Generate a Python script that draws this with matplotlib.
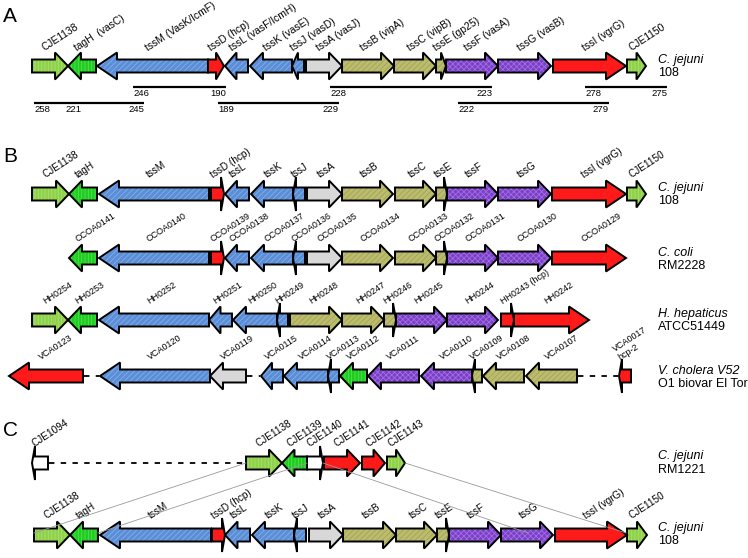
import matplotlib
matplotlib.use("Agg")
import matplotlib.pyplot as plt
from matplotlib.patches import Polygon

plt.rcParams['font.family'] = ['Liberation Sans', 'DejaVu Sans']
plt.rcParams['hatch.linewidth'] = 0.6

# gene tables: (label, start, end, strand, family)
a_genes = [
    ("CJE1138", 32, 68, 1, "lgreen"),
    ("tagH  (vasC)", 68, 96, -1, "green"),
    ("tssM (VasK/IcmF)", 97, 208, -1, "blue"),
    ("tssD (hcp)", 208, 224, 1, "red"),
    ("tssL (vasF/IcmH)", 225, 248, -1, "blue"),
    ("tssK (vasE)", 250, 292, -1, "blue"),
    ("tssJ (vasD)", 292, 304, -1, "blue"),
    ("tssA (vasJ)", 306, 342, 1, "grey"),
    ("tssB (vipA)", 342, 394, 1, "olive"),
    ("tssC (vipB)", 394, 436, 1, "olive"),
    ("tssE (gp25)", 436, 446, 1, "olive"),
    ("tssF (vasA)", 446, 498, 1, "purple"),
    ("tssG (vasB)", 498, 551, 1, "purple"),
    ("tssI (vgrG)", 553, 626, 1, "red"),
    ("CJE1150", 627, 646, 1, "lgreen"),
]
b_jejuni = [
    ("CJE1138", 32, 69, 1, "lgreen"),
    ("tagH", 69, 97, -1, "green"),
    ("tssM", 99, 209, -1, "blue"),
    ("tssD (hcp)", 211, 224, 1, "red"),
    ("tssL", 225, 249, -1, "blue"),
    ("tssK", 251, 293, -1, "blue"),
    ("tssJ", 293, 305, -1, "blue"),
    ("tssA", 307, 342, 1, "grey"),
    ("tssB", 342, 393, 1, "olive"),
    ("tssC", 395, 436, 1, "olive"),
    ("tssE", 436, 447, 1, "olive"),
    ("tssF", 447, 498, 1, "purple"),
    ("tssG", 498, 551, 1, "purple"),
    ("tssI (vgrG)", 552, 626, 1, "red"),
    ("CJE1150", 627, 646, 1, "lgreen"),
]
b_coli = [
    ("CCOA0141", 69, 97, -1, "green"),
    ("CCOA0140", 99, 209, -1, "blue"),
    ("CCOA0139", 211, 224, 1, "red"),
    ("CCOA0138", 225, 249, -1, "blue"),
    ("CCOA0137", 251, 293, -1, "blue"),
    ("CCOA0136", 293, 305, -1, "blue"),
    ("CCOA0135", 307, 342, 1, "grey"),
    ("CCOA0134", 342, 393, 1, "olive"),
    ("CCOA0133", 395, 436, 1, "olive"),
    ("CCOA0132", 436, 447, 1, "olive"),
    ("CCOA0131", 447, 498, 1, "purple"),
    ("CCOA0130", 498, 551, 1, "purple"),
    ("CCOA0129", 552, 626, 1, "red"),
]
b_hepaticus = [
    ("HH0254", 32, 68, 1, "lgreen"),
    ("HH0253", 68, 97, -1, "green"),
    ("HH0252", 99, 209, -1, "blue"),
    ("HH0251", 209, 232, -1, "blue"),
    ("HH0250", 233, 277, -1, "blue"),
    ("HH0249", 277, 288, -1, "blue"),
    ("HH0248", 290, 342, 1, "olive"),
    ("HH0247", 342, 384, 1, "olive"),
    ("HH0246", 384, 396, 1, "olive"),
    ("HH0245", 396, 447, 1, "purple"),
    ("HH0244", 447, 498, 1, "purple"),
    ("HH0243 (hcp)", 501, 514, 1, "red"),
    ("HH0242", 514, 589, 1, "red"),
]
b_cholera = [
    ("VCA0123", 9, 83, -1, "red"),
    ("VCA0120", 100, 210, -1, "blue"),
    ("VCA0119", 210, 246, -1, "grey"),
    ("VCA0115", 261, 283, -1, "blue"),
    ("VCA0114", 284, 328, -1, "blue"),
    ("VCA0113", 328, 339, -1, "blue"),
    ("VCA0112", 340, 367, -1, "green"),
    ("VCA0111", 368, 419, -1, "purple"),
    ("VCA0110", 421, 472, -1, "purple"),
    ("VCA0109", 472, 482, -1, "olive"),
    ("VCA0108", 483, 524, -1, "olive"),
    ("VCA0107", 526, 577, -1, "olive"),
    ("VCA0017\nhcp-2", 619, 631, -1, "red"),
]
b_cholera_gaps = [(83, 100), (246, 261), (577, 619)]
c_rm1221 = [
    ("CJE1094", 32, 48, -1, "white"),
    ("CJE1138", 246, 282, 1, "lgreen"),
    ("CJE1139", 282, 307, -1, "green"),
    ("CJE1140", 307, 323, 1, "white"),
    ("CJE1141", 324, 360, 1, "red"),
    ("CJE1142", 362, 385, 1, "red"),
    ("CJE1143", 387, 405, 1, "lgreen"),
]
c_rm1221_gaps = [(48, 246)]
c_jejuni = [
    ("CJE1138", 34, 70, 1, "lgreen"),
    ("tagH", 70, 98, -1, "green"),
    ("tssM", 100, 211, -1, "blue"),
    ("tssD (hcp)", 212, 225, 1, "red"),
    ("tssL", 225, 250, -1, "blue"),
    ("tssK", 252, 294, -1, "blue"),
    ("tssJ", 294, 306, -1, "blue"),
    ("tssA", 309, 343, 1, "grey"),
    ("tssB", 343, 396, 1, "olive"),
    ("tssC", 396, 437, 1, "olive"),
    ("tssE", 437, 449, 1, "olive"),
    ("tssF", 449, 501, 1, "purple"),
    ("tssG", 501, 553, 1, "purple"),
    ("tssI (vgrG)", 555, 627, 1, "red"),
    ("CJE1150", 627, 647, 1, "lgreen"),
]
# synteny links RM1221 -> 108 (x on top track, x on bottom track)
c_links = [(246, 34), (307, 98), (323, 528), (405, 626)]

# mapped regions under panel A: (from, to, left label, right label)
a_regions_1 = [(133, 226, "246", "190"), (330, 492, "228", "223"), (585, 667, "278", "275")]
a_regions_2 = [(34, 144, "258", "245"), (218, 339, "189", "229"), (458, 609, "222", "279")]

families = {
    "lgreen": ("#8fd24a", "#a9e070", "|||||"),
    "green": ("#1fcc1f", "#55e055", "|||||"),
    "blue": ("#5a8ed6", "#86aee8", "//////"),
    "red": ("#ff1a1a", None, None),
    "grey": ("#d8d8d8", None, None),
    "olive": ("#bcbc6e", "#a3a355", "//////"),
    "purple": ("#7a3ec8", "#a070e0", "xxxxxx"),
    "white": ("#ffffff", None, None),
}


def gene(ax, y, x0, x1, strand, fam, thin):
    length = x1 - x0
    h = 6.5
    if thin and length < 18:
        L, H = 3, 17
    else:
        L = 20 if length > 70 else 13
        L = min(L, length * 0.5)
        H = 13.5
    if strand > 0:
        b = x1 - L
        pts = [(x0, y - h), (b, y - h), (b, y - H), (x1, y), (b, y + H), (b, y + h), (x0, y + h)]
    else:
        b = x0 + L
        pts = [(x1, y - h), (b, y - h), (b, y - H), (x0, y), (b, y + H), (b, y + h), (x1, y + h)]
    face, hcol, hatch = families[fam]
    ax.add_patch(Polygon(pts, closed=True, facecolor=face, lw=0, zorder=2))
    if hatch:
        ax.add_patch(Polygon(pts, closed=True, fill=False, hatch=hatch, edgecolor=hcol, lw=0, zorder=2.5))
    ax.add_patch(Polygon(pts, closed=True, fill=False, edgecolor='black', lw=1.4, joinstyle='miter', zorder=3))


def track(ax, genes, y, size, thin=True, gaps=(), dy=16):
    for name, x0, x1, s, fam in genes:
        gene(ax, y, x0, x1, s, fam, thin)
        ax.text((x0 + x1) / 2 - 5, y - dy, name, rotation=33, rotation_mode='anchor',
                ha='left', va='baseline', fontsize=size, linespacing=1.0, zorder=4)
    for g0, g1 in gaps:
        ax.plot([g0 + 1, g1 - 1], [y, y], color='black', lw=1.3, ls=(0, (3, 3.5)), zorder=1)


def species(ax, y, line1, line2):
    ax.text(658, y - 6.5, line1, fontsize=9, style='italic', va='center', ha='left')
    ax.text(658, y + 7, line2, fontsize=9, va='center', ha='left')


fig = plt.figure(figsize=(7.48, 5.58), dpi=100)
ax = fig.add_axes([0, 0, 1, 1])
ax.set_xlim(0, 748)
ax.set_ylim(558, 0)
ax.axis('off')

# panel A
ax.text(3, 16, "A", fontsize=15, va='center', ha='left')
track(ax, a_genes, 66, 7.4, thin=False, dy=15)
species(ax, 66, "C. jejuni", "108")
for row_y, regions in [(87, a_regions_1), (103, a_regions_2)]:
    for r0, r1, lab0, lab1 in regions:
        ax.plot([r0, r1], [row_y, row_y], color='black', lw=1.6, solid_capstyle='butt')
        ax.text(r0, row_y + 2.5, lab0, fontsize=6.8, ha='left', va='top')
        ax.text(r1, row_y + 2.5, lab1, fontsize=6.8, ha='right', va='top')
ax.text(65, 105.5, "221", fontsize=6.8, ha='left', va='top')

# panel B
ax.text(3, 157, "B", fontsize=15, va='center', ha='left')
track(ax, b_jejuni, 194, 7.2)
species(ax, 194, "C. jejuni", "108")
track(ax, b_coli, 258, 6.5)
species(ax, 259, "C. coli", "RM2228")
track(ax, b_hepaticus, 320, 6.5)
species(ax, 320, "H. hepaticus", "ATCC51449")
track(ax, b_cholera, 376, 6.5, gaps=b_cholera_gaps)
species(ax, 377, "V. cholera V52", "O1 biovar El Tor")

# panel C
ax.text(3, 431, "C", fontsize=15, va='center', ha='left')
track(ax, c_rm1221, 463, 7.2, gaps=c_rm1221_gaps)
species(ax, 463, "C. jejuni", "RM1221")
track(ax, c_jejuni, 535, 7.2)
species(ax, 534, "C. jejuni", "108")
for top_x, bot_x in c_links:
    ax.plot([top_x, bot_x], [463, 533], color='#9a9a9a', lw=0.6, zorder=5)

fig.savefig("out.png", dpi=100)
